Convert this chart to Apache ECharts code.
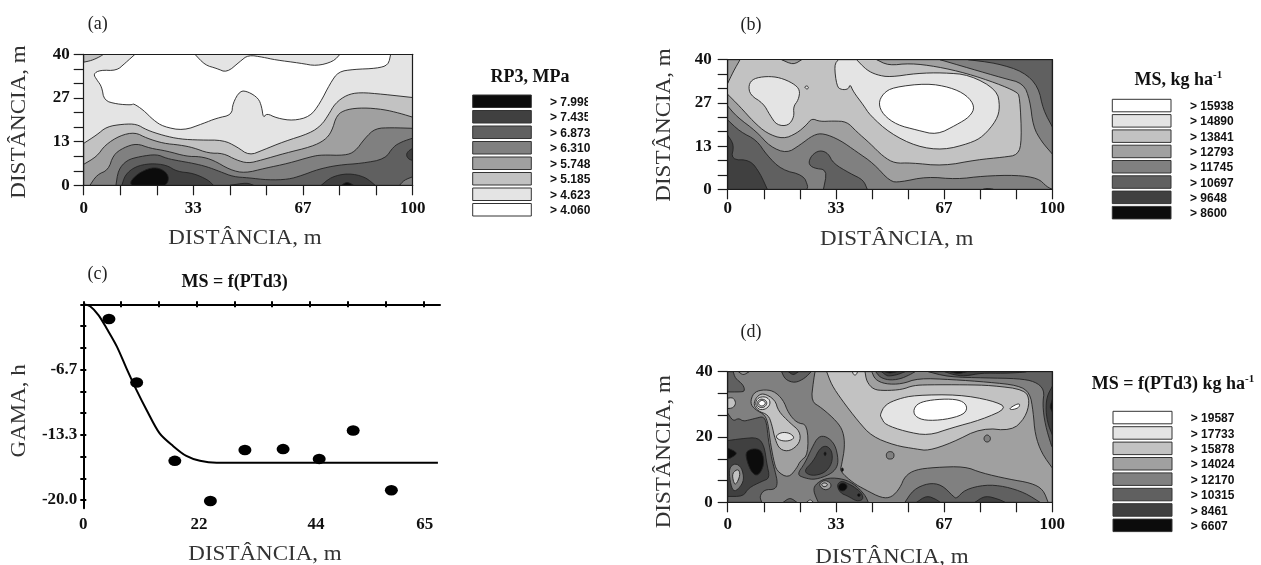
<!DOCTYPE html>
<html><head><meta charset="utf-8">
<style>html,body{margin:0;padding:0;background:#fff}#c{width:1261px;height:565px}</style>
<script src="https://cdn.jsdelivr.net/npm/echarts@6/dist/echarts.min.js"></script>
</head><body><div id="c"></div>
<script>
// grey shade by class: 0 = lowest class colour in legend order white -> black
const shades = ['#ffffff','#e4e4e4','#c2c2c2','#a0a0a0','#808080','#606060','#404040','#0c0c0c'];

// Panel (a) RP3 contour bands: [shade, [[x,y]...]]
const panelABase = 1;
const panelABands = [
[2,[[0,37.6],[2.4,38.1],[5,39.3],[6,40],[0,40]]],
[0,[[15.6,40],[12.6,37.3],[10,35],[5,35.2],[2.9,34],[4,32.2],[5.5,30.1],[6.2,25.9],[10,24.8],[14.6,24.5],[15.1,25],[18.1,23],[21.2,19.9],[24.2,17.9],[30.3,16.7],[36.4,18.9],[40.4,20.5],[45,21.5],[45.3,25],[47.5,28.9],[50,28.6],[53.1,26.6],[54.1,24],[54.6,20.5],[55.6,22],[58.7,20.5],[63.7,19.7],[68.8,21],[71.8,25],[74.9,31.1],[77.4,34.7],[82,35.4],[89.1,35.7],[92.6,36.7],[93.3,40],[77.9,40],[75.9,37.8],[70.8,36.4],[65.8,37.3],[58.2,38.3],[54.6,39.1],[50,39.8],[47.5,37.8],[43.5,34.4],[40.4,35.7],[36.9,36.7],[33.8,40]]],
[2,[[0,12.8],[4,15.4],[7,17.9],[12,18.7],[16.1,18.7],[19.1,16.9],[24.2,15.2],[29.3,14.1],[35.4,13.8],[42.4,13.8],[46.5,11.8],[50.3,9.1],[54.6,10.8],[60.7,13.3],[68.8,15.9],[72.3,18.4],[74.4,21.5],[76.4,25],[79.9,27.6],[83.9,28.4],[91,27.8],[100,26.8],[100,0],[0,0]]],
[3,[[0,6.4],[4,8.8],[6.5,12.3],[11,15.2],[15.6,16.2],[19.1,14.4],[24.2,12.8],[29.3,12.3],[33.3,11.5],[37.9,9.8],[42.4,9.8],[46.4,7.7],[50,6.7],[54,7.7],[61.2,9.8],[69.3,11.8],[73.3,13.8],[75.4,16.4],[76.9,21.5],[79.9,23.2],[85,23.7],[91,23.2],[96.1,22],[100,20.8],[100,0],[0,0]]],
[4,[[1.9,0],[4,3.2],[7.5,4.7],[9,9.3],[12.1,11.5],[16.1,12.8],[20.2,11.3],[25.2,10.5],[31.3,8.8],[35.4,8.8],[39.4,7.7],[44.5,4.7],[49,3.7],[55.1,5.2],[62.2,6.7],[69.3,8.8],[72.3,9.3],[79.4,9.1],[82.5,10.3],[85.5,14.4],[88.6,17.4],[93.6,17.6],[100,17.4],[100,0]]],
[5,[[9.8,0],[10.5,4.7],[13.1,7.7],[17.1,8.8],[22.2,9.5],[25.2,8.2],[29.3,7.4],[33.3,6.7],[37.4,5.7],[41.4,4.2],[45.5,2.6],[50,2.3],[56.1,1.6],[62.2,1.8],[66.3,3],[71.3,4.9],[77.4,6.2],[84.5,6.7],[91.6,8],[94.1,11.8],[96.7,13.3],[100,14.4],[100,0]]],
[4,[[100,2.6],[97.4,1.6],[96,0],[100,0]]],
[6,[[100,11.3],[98.7,10.5],[98,9.3],[98.7,8],[100,7.6]]],
[6,[[11.6,0],[12.6,3.2],[15.6,5.7],[20.2,6.7],[25.2,6.2],[28.3,4.2],[33.3,3.7],[37.9,1.6],[39.4,0]]],
[6,[[44.5,0],[49.6,0.8],[51.6,0]]],
[6,[[72.2,0],[75.3,2.6],[80.4,3.7],[85.5,2.6],[88.6,0]]],
[7,[[14.1,1.1],[16.6,3.7],[20.7,5.5],[23.7,5],[25.7,3.2],[25.7,1.1],[24.7,0],[14.6,0]]],
[7,[[78.4,0],[80,1.1],[82,0]]]
];

// Panel (b) MS contour bands
const panelBBase = 2;
const panelBBands = [
[3,[[0,29.3],[3.8,25.5],[7.9,20.9],[12,17.3],[17.1,15.5],[21.3,17.3],[24.3,19.9],[25.9,21.9],[28.4,20.9],[32.5,21.1],[36.7,20.9],[39.7,17.8],[43.8,14.2],[47.9,10.1],[51.5,8],[56.2,8.2],[66.4,7.2],[76.7,9.1],[84.9,9.9],[89.5,10.6],[90.6,15.2],[90,28.6],[89,30.1],[82.9,32.7],[73.6,35.8],[64.4,37.9],[56.2,38.9],[49.5,38.2],[45.9,40],[100,40],[100,0],[0,0]]],
[3,[[0,32.7],[1.7,36.3],[3.8,40],[0,40]]],
[3,[[16.6,40],[20.2,38.4],[22.8,40]]],
[4,[[0,25.7],[2.8,22.4],[8.9,17.8],[13,13.2],[18.2,11.1],[22.3,13.7],[26.4,16.8],[29.5,17.3],[34.6,15.2],[39.7,11.6],[44.9,8],[50,2.4],[53.1,2.2],[61.3,3.9],[70.5,3.1],[78.7,4.1],[89,4.4],[95.7,3.4],[98.3,0.8],[100,0],[0,0]]],
[4,[[65.4,40],[74.6,37.3],[84.9,34.3],[91.1,32.7],[93.1,27.6],[94.1,19.3],[96.7,14.7],[100,10.9],[100,40]]],
[5,[[74.1,40],[82.9,38.9],[91.1,36.3],[95.7,31.7],[97.2,24.5],[100,19.3],[100,40]]],
[5,[[0,21.4],[3.8,17.8],[8.9,15.2],[12,10.6],[16.6,6],[23.3,4.4],[24.8,0.8],[24.3,0],[0,0]]],
[5,[[29.5,0],[30.7,6],[26.4,6.5],[24.8,8],[25.9,10.6],[28.4,12.1],[31,11.1],[32.5,8],[37.7,4.9],[41.8,2.9],[43,0]]],
[6,[[0,16.7],[2,13.7],[1,9.1],[6.9,9.1],[10,4.9],[12.2,0],[0,0]]],
[6,[[78.7,0],[80,0.3],[81.8,0]]],
[1,[[6.4,32.2],[7.9,34.2],[12,34.9],[16.1,34.5],[20.2,32.7],[22.3,30.7],[21.8,27.6],[20.2,25.5],[20.5,22.4],[18.7,19.6],[15.1,19.8],[13,22.9],[11,26.5],[6.9,29.1]]],
[1,[[23.6,31.5],[24.3,32],[25,31.5],[24.5,30.8]]],
[1,[[39.7,40],[42.8,36.8],[45.9,35.3],[50,34.6],[58.2,35.8],[66.4,36],[74.6,35.3],[82.9,30.7],[83.9,25.5],[82.9,21.4],[78.7,16.3],[74.6,14.2],[66.4,12.1],[58.2,13.2],[50,17.3],[43.8,22.9],[41.8,26],[38.7,30.1],[37.7,32.5],[37.2,30.9],[35.1,30.7],[33.6,31.7],[32.8,38.4],[34.1,40]]],
[0,[[46.4,26.5],[47.9,29.6],[51,31.5],[61.3,32.7],[68.5,31.5],[73.6,29.1],[76.2,25.5],[74.6,22.4],[70.5,19.9],[64.4,16.8],[58.2,18.3],[52.1,19.9],[47.9,23]]]
];

// Panel (d) MS = f(PTd3) contour bands
const panelDBase = 4;
const panelDBands = [
[3,[[26.9,40],[26.4,37],[25.7,30.9],[29,28.9],[33.6,24.8],[35.6,21.7],[36.1,17.1],[35.1,11.5],[34.6,9.5],[38.7,5.9],[42.3,3.9],[47.4,1.3],[50.5,1.5],[53.1,4.4],[54.6,8],[57.8,10],[63.8,10.7],[73,11],[78.2,9],[86.5,7.1],[93.6,5.9],[97.2,3.9],[98.7,0],[100,0],[100,10.5],[96.7,15.1],[94.7,20.7],[94.1,27.9],[93.1,33.5],[89.6,35.8],[80.3,36.8],[69,37.6],[58.7,38],[53.6,36.2],[48.5,36.2],[45.4,37.6],[44.4,40]]],
[2,[[30.5,40],[32,36],[35.1,31.4],[40.2,24.8],[44.4,20.2],[51.5,17.4],[58.2,16.3],[61.8,15.8],[69,18.2],[78.2,22.8],[87.5,21.9],[91.6,25.8],[93.1,30.9],[91.6,34.5],[81.3,35.8],[73.1,36],[61.8,36],[57.2,35.8],[53.6,34.5],[48.5,34.2],[44.9,34.5],[42.8,37],[42.3,40]]],
[1,[[38.4,40],[38.8,39],[39.6,39],[40,40]]],
[1,[[46.9,26.8],[48.5,29.9],[52.6,31.7],[57.7,32.8],[71,33],[81.4,31.2],[86.4,28.9],[78.2,25.3],[69,22.8],[61.8,20.4],[54.6,21.7],[48.5,23.8],[47.4,25.8]]],
[0,[[86.7,28.7],[89,30.1],[90.1,30.1],[89.6,28.9],[87.5,28.3]]],
[0,[[57.2,28.4],[58.7,30.4],[62.8,31.4],[69,31.7],[72.6,30.9],[73.9,28.9],[72.6,26.8],[67,25.3],[60.8,25],[57.7,26.3]]],
[4,[[78.9,19.5],[79.2,20.3],[79.9,20.7],[80.7,20.3],[81,19.5],[80.7,18.7],[79.9,18.4],[79.2,18.7]]],
[4,[[48.8,14.4],[49.1,15.3],[50,15.6],[51,15.3],[51.3,14.4],[51,13.4],[50,13.2],[49.1,13.4]]],
[5,[[54.6,0],[57.2,3.9],[61.8,5.9],[65.9,5.4],[69.5,1.8],[70.5,1.1],[73.1,3.9],[79.3,5.4],[85.4,4.9],[91.6,2.9],[96.2,0]]],
[6,[[58.2,0],[61.3,2.1],[64.4,0.8],[65.4,0]]],
[6,[[76.2,0],[79.3,2.1],[83.9,0.8],[85.4,0]]],
[5,[[45.6,40],[46.9,38.3],[49.5,37.4],[53,37.7],[56.2,39.1],[57.7,40]]],
[6,[[47.4,40],[48.5,39.1],[49.5,38.6],[52.4,39.1],[54.6,40]]],
[7,[[48.5,40],[50,39.5],[52,40]]],
[5,[[61.8,40],[68,38.4],[79.3,38.1],[89.6,37.9],[94.7,37],[97.6,34.5],[97,29.9],[97.8,23.8],[99.8,17.1],[100,17],[100,40]]],
[6,[[66.9,40],[69.5,39.1],[73,38.6],[78.2,39.6],[85,39.5],[91,39.8],[92,40]]],
[7,[[68.5,40],[71,39.3],[73.6,40]]],
[6,[[100,35.5],[98.3,32.4],[98,27.9],[98.7,23.8],[100,20.7]]],
[7,[[100,31.4],[99.2,29.2],[100,27.7]]],
[5,[[0,27.3],[1.7,24.8],[3.3,25.8],[4.8,24.8],[6.9,25.3],[8.9,25.8],[11,26.3],[12,24.3],[12.5,19.2],[13.6,13.1],[14.6,9.5],[15.4,5.9],[14.6,3.9],[11.3,3.9],[9.8,1.8],[10.5,0],[0,0]]],
[6,[[0,18.9],[4.3,19.5],[9.4,19.9],[11.3,17.1],[12,12],[13,7.4],[10.5,6.4],[6.4,4.4],[4.8,1.8],[0,1.8]]],
[7,[[0,16.6],[3.3,15.1],[0.7,13.4],[0,13.4]]],
[7,[[5.5,15.6],[8.4,16.6],[10.7,15.6],[11.3,11.5],[9.4,8],[7.4,9],[5.9,12.6]]],
[4,[[0.4,10.5],[2.3,12],[4.3,10.7],[5.1,6.9],[3.5,4.2],[1.7,3.2],[0.7,6.4]]],
[2,[[1.4,9],[3.3,10.3],[3.9,8.3],[2.5,5.2],[1.7,6.4]]],
[5,[[0,40],[1.7,40],[2.3,38],[4.8,36],[5.3,34],[3.8,33.8],[0,33.8]]],
[3,[[3.3,40],[4.8,38.9],[6.6,40]]],
[5,[[16.6,40],[17.7,37.6],[20.7,36.5],[23.8,38],[25.7,40]]],
[6,[[18.7,40],[20.2,38.9],[21.8,40]]],
[3,[[6.9,30.4],[7.9,33.5],[10.5,34.5],[14.1,34.2],[17.1,31.4],[18.7,27.3],[21.3,24.3],[24.6,23.8],[24.8,14.6],[22.3,12.6],[21.3,10.5],[18.7,7.4],[15.1,9.5],[14.1,13.1],[13,19.2],[12.5,23.8],[11.5,26.8],[8.4,28.4]]],
[2,[[7.9,29.9],[8.9,32.4],[11,33.5],[14.6,31.4],[15.6,27.9],[19.2,24.3],[22.3,21.7],[22.3,18.2],[19.2,15.6],[16.1,16.1],[14.6,19.2],[13.6,23.8],[12.5,26.8],[9.4,27.9]]],
[1,[[14.6,20.2],[16.6,21.5],[19.2,21.2],[20.7,19.7],[18.7,18.7],[16.1,18.9]]],
[1,[[8.4,30.4],[9.4,32.1],[11.5,32.4],[13,31.4],[13,29.7],[11.5,28.4],[9.4,28.4]]],
[2,[[8.9,30.4],[9.9,31.7],[11.7,31.4],[12.2,30.1],[11,28.9],[9.4,29.2]]],
[0,[[9.4,30.4],[10.3,31.3],[11.3,31],[11.7,30.2],[10.7,29.4],[9.8,29.7]]],
[2,[[0,31.9],[1.7,32.1],[2.6,30.4],[1.7,28.9],[0,28.7]]],
[5,[[21.3,8.5],[23.8,12],[25.9,16.6],[27.9,20.2],[30.5,20.2],[33.1,17.7],[34.1,13.1],[33.6,10.5],[31.5,8.5],[26.9,6.9],[23.8,7.4]]],
[6,[[23.3,9.5],[26.4,12.6],[28.4,16.6],[30.5,17.4],[32.2,15.6],[32.2,12],[30,9],[25.9,8]]],
[7,[[30,15.6],[30.4,14.9],[30,14.1],[29.6,14.9]]],
[7,[[35,10.5],[35.6,10.5],[35.6,9.5],[35,9.5]]],
[5,[[26.9,5.4],[30,7.4],[34.6,7.4],[38.7,5.9],[42.3,2.3],[43.3,0],[27.9,0],[26.4,3.4]]],
[3,[[27.9,5.4],[29.8,6.9],[31.8,5.9],[31.8,4.4],[29.8,3.6]]],
[2,[[28.7,5.4],[29.8,6.1],[31,5.4],[29.8,4.6]]],
[6,[[33.6,5.4],[35.1,6.6],[36.7,5.9],[38.7,4.9],[41.3,2.9],[41.8,0.8],[39.7,0.3],[37.2,1.8],[34.6,2.9]]],
[7,[[33.9,4.9],[35.3,6.2],[37,5.2],[36.3,3.6],[34.6,3.4]]],
[7,[[40,2.6],[40.8,2.6],[40.8,1.8],[40,1.8]]],
[5,[[17.1,0],[19.2,1.5],[21.3,0]]],
[1,[[24.3,0],[25.4,0.9],[26.4,0]]]
];

// Panel (c) semivariogram
const semivarPoints = [[4.9,-1.5],[10.2,-8],[17.5,-16],[24.3,-20.1],[30.9,-14.9],[38.2,-14.8],[45.1,-15.8],[51.6,-12.9],[58.9,-19]];
const semivarModel = [[0,0],[1.3,-0.2],[2.9,-1.1],[4.5,-2.5],[6.4,-4.3],[8.3,-6.6],[10.2,-8.8],[12.1,-10.8],[14.6,-13.2],[17.2,-14.5],[19.7,-15.5],[22.3,-16],[25.5,-16.2],[67.8,-16.2]];

// Ticks and labels
const mapXTicks = [0,11.11,22.22,33.33,44.44,55.56,66.67,77.78,88.89,100];
const mapXMajor = [0,33.33,66.67,100];
const mapXLabels = ['0','33','67','100'];
const abYTicks = [0,4.44,8.89,13.33,17.78,22.22,26.67,31.11,35.56,40];
const abYMajor = [0,13.33,26.67,40];
const abYLabels = ['0','13','27','40'];
const dYTicks = [0,6.67,13.33,20,26.67,33.33,40];
const dYMajor = [0,20,40];
const dYLabels = ['0','20','40'];
const cXTicks = [0,7.22,14.44,21.67,28.89,36.11,43.33,50.56,57.78,65];
const cXMajor = [0,22.1,44.5,65.3];
const cXLabels = ['0','22','44','65'];
const cYTicks = [0,-2.22,-4.44,-6.67,-8.89,-11.11,-13.33,-15.56,-17.78,-20];
const cYMajor = [-6.67,-13.33,-20];
const cYLabels = ['-6.7','-13.3','-20.0'];

// Legends
const legendALabels = ['> 7.998','> 7.435','> 6.873','> 6.310','> 5.748','> 5.185','> 4.623','> 4.060'];
const legendBLabels = ['> 15938','> 14890','> 13841','> 12793','> 11745','> 10697','> 9648','> 8600'];
const legendDLabels = ['> 19587','> 17733','> 15878','> 14024','> 12170','> 10315','> 8461','> 6607'];
const legendATitle = 'RP3, MPa', legendBTitle = 'MS, kg ha', legendDTitle = 'MS = f(PTd3) kg ha';
const axisDist = 'DISTÂNCIA, m', axisGama = 'GAMA, h', titleC = 'MS = f(PTd3)';

const W = 1261, H = 565, ink = '#1c1c1c';
const tickFont = {fontFamily:'Liberation Serif',fontWeight:'bold',fontSize:17,color:'#111'};
const grids = [], xAxes = [], yAxes = [], series = [], graphics = [];

function box(l,t,r,b){return {left:l,top:t,width:r-l,height:b-t};}
function lookup(majors,labels){
  return v => { let best=0; majors.forEach((m,i)=>{ if(Math.abs(m-v)<Math.abs(majors[best]-v)) best=i; }); return labels[best]; };
}
// rounds the drawn outline of a band; points lying on the plot frame stay put
function rounded(points,passes){
  let pts = points;
  const onFrame = q => q[0]<=0||q[0]>=100||q[1]<=0||q[1]>=40;
  for(let k=0;k<passes;k++){
    const out=[];
    pts.forEach((p,i)=>{
      const prev=pts[(i-1+pts.length)%pts.length], next=pts[(i+1)%pts.length];
      if(onFrame(p)){out.push(p);return;}
      out.push([p[0]*0.75+prev[0]*0.25,p[1]*0.75+prev[1]*0.25]);
      out.push([p[0]*0.75+next[0]*0.25,p[1]*0.75+next[1]*0.25]);
    });
    pts=out;
  }
  return pts;
}
function contourPanel(rect, base, bands, yTicks, yMajor, yLabels, xMargin, yMargin){
  const g = grids.length; grids.push(rect);
  const all = [[base,[[0,0],[100,0],[100,40],[0,40]]]].concat(bands);
  const xi = xAxes.length, yi = yAxes.length;
  xAxes.push({gridIndex:g,type:'value',min:0,max:100,position:'bottom',z:5,
    axisLine:{onZero:false,lineStyle:{color:ink,width:1.2}},splitLine:{show:false},
    axisTick:{length:10,customValues:mapXTicks,lineStyle:{color:ink,width:1.2}},
    axisLabel:Object.assign({show:true,customValues:mapXMajor,margin:xMargin,formatter:lookup(mapXMajor,mapXLabels)},tickFont)});
  xAxes.push({gridIndex:g,type:'value',min:0,max:100,position:'top',z:5,
    axisLine:{onZero:false,lineStyle:{color:ink,width:1.2}},splitLine:{show:false},axisTick:{show:false},axisLabel:{show:false}});
  yAxes.push({gridIndex:g,type:'value',min:0,max:40,position:'left',z:5,
    axisLine:{onZero:false,lineStyle:{color:ink,width:1.2}},splitLine:{show:false},
    axisTick:{length:10,customValues:yTicks,lineStyle:{color:ink,width:1.2}},
    axisLabel:Object.assign({show:true,customValues:yMajor,margin:yMargin,formatter:lookup(yMajor,yLabels)},tickFont)});
  yAxes.push({gridIndex:g,type:'value',min:0,max:40,position:'right',z:5,
    axisLine:{onZero:false,lineStyle:{color:ink,width:1.2}},splitLine:{show:false},axisTick:{show:false},axisLabel:{show:false}});
  series.push({type:'custom',coordinateSystem:'cartesian2d',xAxisIndex:xi,yAxisIndex:yi,clip:true,silent:true,animation:false,z:2,
    data:all.map(b=>[b[1][0][0],b[1][0][1]]),
    encode:{x:0,y:1},
    renderItem:(p,api)=>{
      const b = all[p.dataIndex];
      return {type:'polygon',shape:{points:rounded(b[1],2).map(q=>api.coord(q))},
        style:{fill:shades[b[0]],stroke:p.dataIndex===0?'none':'#222',lineWidth:0.9}};
    }});
}
contourPanel(box(83.7,54.3,412.7,185.3),panelABase,panelABands,abYTicks,abYMajor,abYLabels,15,14);
contourPanel(box(727.7,59.7,1052.3,189.3),panelBBase,panelBBands,abYTicks,abYMajor,abYLabels,11,16);
contourPanel(box(727.7,371.7,1052.3,502.3),panelDBase,panelDBands,dYTicks,dYMajor,dYLabels,14,15);

// Panel (c)
(function(){
  const g = grids.length; grids.push(box(83.3,304.3,440,508.3));
  const xi = xAxes.length, yi = yAxes.length;
  const xBase = {gridIndex:g,type:'value',min:0,max:68.2,z:5,splitLine:{show:false}};
  const yBase = {gridIndex:g,type:'value',min:-20.85,max:0,z:5,splitLine:{show:false}};
  const lw = {lineStyle:{color:'#000',width:2}};
  xAxes.push(Object.assign({},xBase,{position:'top',axisLine:Object.assign({onZero:false},lw),
    axisTick:Object.assign({length:3,customValues:cXTicks},lw),axisLabel:{show:false}}));
  xAxes.push(Object.assign({},xBase,{position:'top',axisLine:{show:false},
    axisTick:Object.assign({length:3,inside:true,customValues:cXTicks},lw),axisLabel:{show:false}}));
  xAxes.push(Object.assign({},xBase,{position:'bottom',axisLine:{show:false},axisTick:{show:false},
    axisLabel:Object.assign({show:true,customValues:cXMajor,margin:8,formatter:lookup(cXMajor,cXLabels)},tickFont)}));
  yAxes.push(Object.assign({},yBase,{position:'left',axisLine:Object.assign({onZero:false},lw),
    axisTick:Object.assign({length:3,customValues:cYTicks},lw),
    axisLabel:Object.assign({show:true,customValues:cYMajor,margin:6,formatter:lookup(cYMajor,cYLabels)},tickFont)}));
  yAxes.push(Object.assign({},yBase,{position:'left',axisLine:{show:false},
    axisTick:Object.assign({length:3,inside:true,customValues:cYTicks},lw),axisLabel:{show:false}}));
  series.push({type:'line',xAxisIndex:xi,yAxisIndex:yi,data:semivarModel,smooth:0.3,showSymbol:false,silent:true,animation:false,clip:false,z:3,
    lineStyle:{color:'#000',width:2}});
  series.push({type:'scatter',xAxisIndex:xi,yAxisIndex:yi,data:semivarPoints,symbol:'circle',symbolSize:[13,10.5],silent:true,animation:false,clip:false,z:4,
    itemStyle:{color:'#000',opacity:1}});
})();

// Text helpers
function txt(s,x,y,font,opt){
  opt = opt||{};
  graphics.push({type:'text',x,y,rotation:opt.rot||0,scaleX:opt.sx||1,scaleY:1,silent:true,z:20,
    style:{text:s,x:0,y:0,font,fill:opt.fill||'#222',align:opt.align||'center',verticalAlign:'middle',
      textAlign:opt.align||'center',textVerticalAlign:'middle'}});
}
const serif20 = '20px "Liberation Serif"';
const panelLbl = '18px "Liberation Serif"';
const boldT = 'bold 18px "Liberation Serif"';
txt('(a)',97.7,24,panelLbl); txt('(b)',751,25,panelLbl); txt('(c)',97.5,274,panelLbl); txt('(d)',751,332,panelLbl);
const rot = Math.PI/2;
txt(axisDist,245,239,serif20,{sx:1.15,fill:'#333'});
txt(axisDist,20,122,serif20,{sx:1.15,rot,fill:'#333'});
txt(axisDist,896.7,240,serif20,{sx:1.15,fill:'#333'});
txt(axisDist,665,125,serif20,{sx:1.15,rot,fill:'#333'});
txt(axisDist,892,558,serif20,{sx:1.15,fill:'#333'});
txt(axisDist,665,451.7,serif20,{sx:1.15,rot,fill:'#333'});
txt(axisDist,265,555,serif20,{sx:1.15,fill:'#333'});
txt(axisGama,20,410.8,serif20,{sx:1.15,rot,fill:'#333'});
txt(titleC,234.7,282,boldT,{fill:'#111'});

function legend(x0,x1,y0,pitch,labelX,labels,reverse){
  labels.forEach((l,i)=>{
    const sh = reverse ? 7-i : i;
    const y = y0+pitch*i;
    graphics.push({type:'rect',silent:true,z:20,shape:{x:x0,y:y,width:x1-x0,height:12.5},
      style:{fill:shades[sh],stroke:'#333',lineWidth:1}});
    txt(l,labelX,y+7.5,'bold 12px "Liberation Sans"',{align:'left',fill:'#111'});
  });
}
legend(472.7,531.3,95,15.5,550,legendALabels,true);
legend(1112.3,1171,99.3,15.3,1190,legendBLabels,false);
legend(1113,1172,411.3,15.4,1190.7,legendDLabels,false);
// the reference's label column is cropped at these edges
graphics.push({type:'rect',silent:true,z:21,shape:{x:588,y:95,width:6,height:28},style:{fill:'#fff'}});
graphics.push({type:'rect',silent:true,z:21,shape:{x:1185,y:217.5,width:60,height:6},style:{fill:'#fff'}});
txt(legendATitle,530,77,boldT,{fill:'#111'});
txt(legendBTitle,1213,80,boldT,{align:'right',fill:'#111'});
txt('-1',1213,75,'bold 11px "Liberation Serif"',{align:'left',fill:'#111'});
txt(legendDTitle,1245,384,boldT,{align:'right',fill:'#111'});
txt('-1',1245,379,'bold 11px "Liberation Serif"',{align:'left',fill:'#111'});

const chart = echarts.init(document.getElementById('c'),null,{renderer:'canvas',width:W,height:H});
chart.setOption({backgroundColor:'#fff',animation:false,tooltip:{show:false},grid:grids,xAxis:xAxes,yAxis:yAxes,series,graphic:{elements:graphics}});
</script>
</body></html>
